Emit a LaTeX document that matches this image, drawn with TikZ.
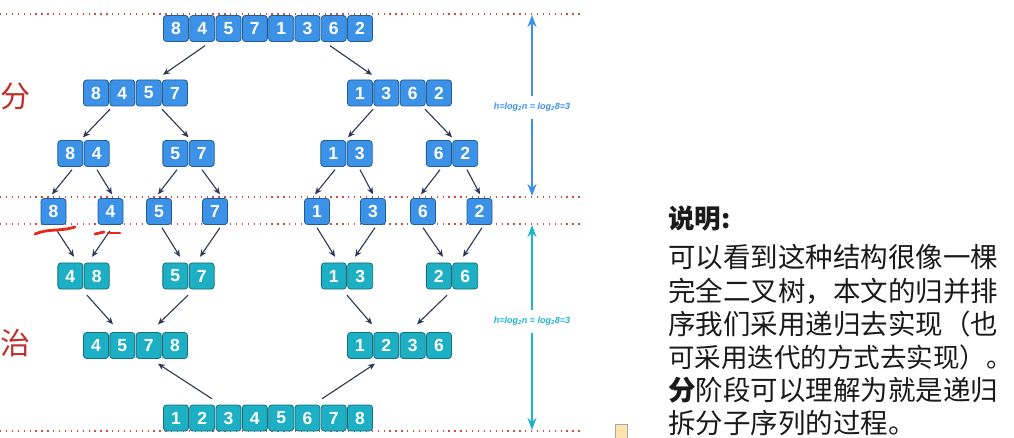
\documentclass[tikz,border=0pt]{standalone}
\usepackage{fontspec}
\setsansfont{Liberation Sans}
\newfontfamily\cjk{Noto Sans CJK SC}
\usetikzlibrary{arrows.meta,calc}
\definecolor{cellblue}{HTML}{3B92E6}
\definecolor{cellblueD}{HTML}{1F5E99}
\definecolor{cellteal}{HTML}{1DAFC4}
\definecolor{celltealD}{HTML}{13707F}
\definecolor{arrnavy}{HTML}{2E3555}
\definecolor{dotred}{HTML}{D24A44}
\definecolor{hblue}{HTML}{3A8FE8}
\definecolor{hteal}{HTML}{1EB4CC}
\definecolor{hanred}{HTML}{C0302A}
\definecolor{markred}{HTML}{E8261A}
\definecolor{txtdark}{HTML}{1A1A1A}
\newcommand\mkgrp[6]{%
  \node[grpbox, minimum width={#4*26.3pt}] (#1) at (#2,#3) {};
  \foreach \d [count=\i] in {#6}{%
    \node[#5] (#1-\i) at ({#2+(\i-(#4+1)/2)*26.3},#3) {\d};
  }%
}
\begin{document}
\begin{tikzpicture}[x=1pt,y=-1pt,
  cellB/.style={rectangle, rounded corners=3pt, draw=cellblueD, line width=0.8pt,
    fill=cellblue, minimum width=25pt, minimum height=26pt, inner sep=0pt,
    text=white, font=\fontsize{17.5}{17.5}\sffamily\bfseries},
  cellT/.style={cellB, draw=celltealD, fill=cellteal},
  grpbox/.style={rectangle, inner sep=0pt, minimum height=26pt, draw=none},
  arr/.style={draw=arrnavy, line width=1.1pt, -{Stealth[length=7pt,width=6pt]}},
  redline/.style={draw=dotred, line width=1.3pt, dash pattern=on 1.3pt off 4.6pt},
  harr/.style={line width=2pt, {Stealth[length=12pt,width=9pt]}-{Stealth[length=12pt,width=9pt]}},
  hlabel/.style={fill=white, inner xsep=1pt, inner ysep=7pt, font=\fontsize{9}{9}\sffamily\bfseries\itshape},
  han/.style={text=hanred, font=\cjk\fontsize{30}{30}\selectfont, inner sep=0pt},
  txt/.style={text=txtdark, font=\cjk\fontsize{27.5}{27.5}\selectfont, inner sep=0pt, anchor=base west},
  redmark/.style={draw=markred, line width=2.8pt, line cap=round}
]
\useasboundingbox (0,0) rectangle (1014,438);
\fill[white] (0,0) rectangle (1014,438);

% dotted red guide lines
\coordinate (d1a) at (0,14);  \coordinate (d1b) at (582,14);
\coordinate (d2a) at (0,197); \coordinate (d2b) at (582,197);
\coordinate (d3a) at (0,224); \coordinate (d3b) at (582,224);
\coordinate (d4a) at (0,431); \coordinate (d4b) at (582,431);
\draw[redline] (d1a) -- (d1b);
\draw[redline] (d2a) -- (d2b);
\draw[redline] (d3a) -- (d3b);
\draw[redline] (d4a) -- (d4b);

% split phase
\mkgrp{T}{268}{28.5}{8}{cellB}{8,4,5,7,1,3,6,2}
\mkgrp{L2}{135.5}{93}{4}{cellB}{8,4,5,7}
\mkgrp{R2}{399.5}{93}{4}{cellB}{1,3,6,2}
\mkgrp{A3}{83.5}{153.5}{2}{cellB}{8,4}
\mkgrp{B3}{188.5}{153.5}{2}{cellB}{5,7}
\mkgrp{C3}{346.5}{153.5}{2}{cellB}{1,3}
\mkgrp{D3}{452}{153.5}{2}{cellB}{6,2}
\mkgrp{s1}{53.5}{211.5}{1}{cellB}{8}
\mkgrp{s2}{110.5}{211.5}{1}{cellB}{4}
\mkgrp{s3}{159}{211.5}{1}{cellB}{5}
\mkgrp{s4}{215}{211.5}{1}{cellB}{7}
\mkgrp{s5}{317}{211.5}{1}{cellB}{1}
\mkgrp{s6}{373}{211.5}{1}{cellB}{3}
\mkgrp{s7}{423}{211.5}{1}{cellB}{6}
\mkgrp{s8}{479.5}{211.5}{1}{cellB}{2}

% merge phase
\mkgrp{A5}{83.5}{276}{2}{cellT}{4,8}
\mkgrp{B5}{188.5}{276}{2}{cellT}{5,7}
\mkgrp{C5}{347}{276}{2}{cellT}{1,3}
\mkgrp{D5}{452}{276}{2}{cellT}{2,6}
\mkgrp{L6}{135.5}{345.5}{4}{cellT}{4,5,7,8}
\mkgrp{R6}{399.5}{345.5}{4}{cellT}{1,2,3,6}
\mkgrp{B7}{268}{418}{8}{cellT}{1,2,3,4,5,6,7,8}

% split arrows
\draw[arr] ($(T.south)+(-63,4)$) -- ($(L2.north)+(27.5,-5)$);
\draw[arr] ($(T.south)+(62,4)$) -- ($(R2.north)+(-27.5,-5)$);
\draw[arr] ($(L2.south)+(-25.5,3)$) -- ($(A3.north)+(-0.5,-3)$);
\draw[arr] ($(L2.south)+(26.5,3)$) -- ($(B3.north)+(0,-3)$);
\draw[arr] ($(R2.south)+(-26.5,3)$) -- ($(C3.north)+(1.5,-3)$);
\draw[arr] ($(R2.south)+(25.5,3)$) -- ($(D3.north)+(0,-3)$);
\draw[arr] ($(A3.south)+(-11.5,3)$) -- ($(s1.north)+(-1.5,-4)$);
\draw[arr] ($(A3.south)+(13.5,3)$) -- ($(s2.north)+(1.5,-4)$);
\draw[arr] ($(B3.south)+(-11.5,3)$) -- ($(s3.north)+(-1,-4)$);
\draw[arr] ($(B3.south)+(13.5,3)$) -- ($(s4.north)+(5,-4)$);
\draw[arr] ($(C3.south)+(-11.5,3)$) -- ($(s5.north)+(-2,-4)$);
\draw[arr] ($(C3.south)+(13.5,3)$) -- ($(s6.north)+(0,-4)$);
\draw[arr] ($(D3.south)+(-12,3)$) -- ($(s7.north)+(-2,-4)$);
\draw[arr] ($(D3.south)+(15,3)$) -- ($(s8.north)+(0.5,-4)$);

% merge arrows
\draw[arr] ($(s1.south)+(3.5,6)$) -- ($(A5.north)+(-9.5,-6)$);
\draw[arr] ($(s2.south)+(-0.5,6)$) -- ($(A5.north)+(8.5,-6)$);
\draw[arr] ($(s3.south)+(3,3)$) -- ($(B5.north)+(-8.5,-6)$);
\draw[arr] ($(s4.south)+(5,3)$) -- ($(B5.north)+(11.5,-6)$);
\draw[arr] ($(s5.south)+(0,3)$) -- ($(C5.north)+(-12,-6)$);
\draw[arr] ($(s6.south)+(2,3)$) -- ($(C5.north)+(8,-6)$);
\draw[arr] ($(s7.south)+(0,3)$) -- ($(D5.north)+(-9,-6)$);
\draw[arr] ($(s8.south)+(2.5,3)$) -- ($(D5.north)+(11,-6)$);
\draw[arr] ($(A5.south)+(3.5,6)$) -- ($(L6.north)+(-22.5,-8)$);
\draw[arr] ($(B5.south)+(-0.5,6)$) -- ($(L6.north)+(22.5,-8)$);
\draw[arr] ($(C5.south)+(0,6)$) -- ($(R6.north)+(-27.5,-8)$);
\draw[arr] ($(D5.south)+(-5,6)$) -- ($(R6.north)+(17.5,-8)$);
\draw[arr] ($(B7.north)+(-56,-6)$) -- ($(L6.south)+(22.5,5)$);
\draw[arr] ($(B7.north)+(54,-6)$) -- ($(R6.south)+(-24.5,5)$);

% height arrows
\coordinate (hb1) at (532,15);  \coordinate (hb2) at (532,196);
\coordinate (ht1) at (532,225); \coordinate (ht2) at (532,430);
\draw[harr, draw=hblue, fill=hblue] (hb1) -- (hb2)
  node[hlabel, text=hblue, pos=0.51] (hbl) {h=log\textsubscript{2}n = log\textsubscript{2}8=3};
\draw[harr, draw=hteal, fill=hteal] (ht1) -- (ht2)
  node[hlabel, text=hteal, pos=0.47] (htl) {h=log\textsubscript{2}n = log\textsubscript{2}8=3};

% phase labels
\node[han] (fen) at (15.5,96) {分};
\node[han] (zhi) at (15.5,343) {治};

% red hand marks
\draw[redmark] (35,234) .. controls (50,228) and (58,232) .. (75,227);
\draw[redmark] (95,234) -- (104,232);
\draw[redmark] (108,233) -- (120,233);

% explanation text
\node[txt, font=\cjk\bfseries\fontsize{26.5}{26.5}\selectfont] (t0) at (668,229) {说明:};
\node[txt] (t1) at (668,268) {可以看到这种结构很像一棵};
\node[txt] (t2) at (668,301) {完全二叉树，本文的归并排};
\node[txt] (t3) at (668,334) {序我们采用递归去实现（也};
\node[txt, font=\cjk\fontsize{26.5}{26.5}\selectfont] (t4) at (668,367) {可采用迭代的方式去实现）。};
\node[txt] (t5) at (668,400) {{\bfseries 分}阶段可以理解为就是递归};
\node[txt] (t6) at (668,433) {拆分子序列的过程。};

% small icon
\node[draw=gray!70, fill=yellow!35!orange!30, minimum width=12pt, minimum height=14pt, inner sep=0pt] (icon) at (621,431) {};
\end{tikzpicture}
\end{document}
